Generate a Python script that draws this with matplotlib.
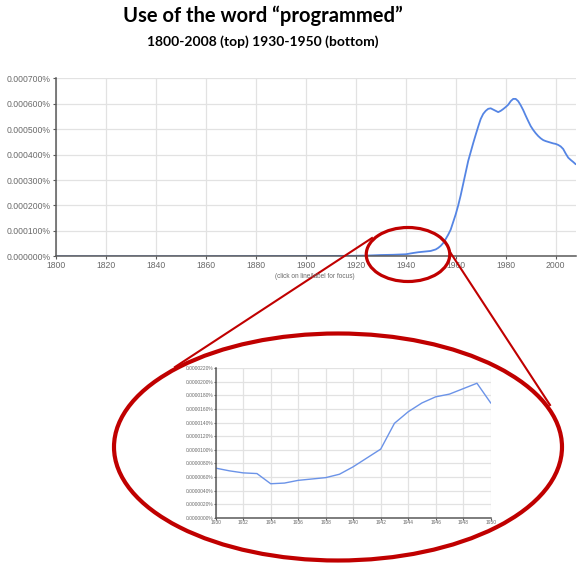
import matplotlib
matplotlib.use('Agg')
import matplotlib.pyplot as plt
from matplotlib.patches import Ellipse
from matplotlib.ticker import FuncFormatter

title = "Use of the word \u201cprogrammed\u201d"
subtitle = "1800-2008 (top) 1930-1950 (bottom)"
note = "(click on line/label for focus)"

# Top chart (percent)
main_years = [1800, 1850, 1900, 1920, 1925, 1930, 1935, 1940, 1943, 1945, 1948, 1950,
              1952, 1953, 1954, 1955, 1956, 1957, 1958, 1959, 1960, 1961, 1962, 1963,
              1964, 1965, 1966, 1967, 1968, 1969, 1970, 1971, 1972, 1973, 1974, 1975,
              1976, 1977, 1978, 1979, 1980, 1981, 1982, 1983, 1984, 1985, 1986, 1987,
              1988, 1989, 1990, 1991, 1992, 1993, 1994, 1995, 1996, 1997, 1998, 1999,
              2000, 2001, 2002, 2003, 2004, 2005, 2006, 2007, 2008]
main_values = [0.0, 0.0, 0.000001, 0.000002, 0.000003, 0.000005, 0.000006, 0.000008,
               0.000013, 0.000016, 0.000019, 0.000021, 0.000027, 0.000033, 0.000041,
               0.000052, 0.000068, 0.000085, 0.000105, 0.000135, 0.000165, 0.000200,
               0.000240, 0.000285, 0.000330, 0.000375, 0.000410, 0.000445, 0.000478,
               0.000510, 0.000540, 0.000560, 0.000572, 0.000580, 0.000582, 0.000577,
               0.000572, 0.000567, 0.000572, 0.000579, 0.000587, 0.000596, 0.000610,
               0.000619, 0.000619, 0.000610, 0.000594, 0.000575, 0.000553, 0.000532,
               0.000512, 0.000497, 0.000484, 0.000473, 0.000464, 0.000457, 0.000453,
               0.000450, 0.000447, 0.000444, 0.000442, 0.000438, 0.000432, 0.000422,
               0.000404, 0.000388, 0.000379, 0.000371, 0.000362]
main_xticks = [1800, 1820, 1840, 1860, 1880, 1900, 1920, 1940, 1960, 1980, 2000]
main_yticks = [0.0, 0.0001, 0.0002, 0.0003, 0.0004, 0.0005, 0.0006, 0.0007]

# Bottom (inset) chart, 1930-1950 (percent)
inset_years = [1930, 1931, 1932, 1933, 1934, 1935, 1936, 1937, 1938, 1939, 1940,
               1941, 1942, 1943, 1944, 1945, 1946, 1947, 1948, 1949, 1950]
inset_values = [0.0000073, 0.0000069, 0.0000066, 0.0000065, 0.0000050, 0.0000051,
                0.0000055, 0.0000057, 0.0000059, 0.0000064, 0.0000075, 0.0000088,
                0.0000101, 0.0000139, 0.0000156, 0.0000169, 0.0000178, 0.0000182,
                0.0000190, 0.0000198, 0.0000169]
inset_xticks = [1930, 1932, 1934, 1936, 1938, 1940, 1942, 1944, 1946, 1948, 1950]
inset_yticks = [0.0, 0.000002, 0.000004, 0.000006, 0.000008, 0.000010, 0.000012,
                0.000014, 0.000016, 0.000018, 0.000020, 0.000022]

W, H = 577, 568
fig = plt.figure(figsize=(W / 100, H / 100), dpi=100)
fig.patch.set_facecolor('white')


def px_axes(l, t, r, b):
    return fig.add_axes([l / W, 1 - b / H, (r - l) / W, (b - t) / H])


def style(ax, lsize, family, tlen, pad):
    ax.grid(True, color='#e2e2e2', lw=0.9)
    ax.set_axisbelow(True)
    for s in ('top', 'right'):
        ax.spines[s].set_visible(False)
    for s in ('left', 'bottom'):
        ax.spines[s].set_color('#5a5a5a')
        ax.spines[s].set_linewidth(1.1)
    ax.tick_params(labelsize=lsize, labelcolor='#6a6a6a', color='#5a5a5a',
                   length=tlen, width=0.8, pad=pad)
    for lab in ax.get_xticklabels() + ax.get_yticklabels():
        lab.set_family(family)


# Top chart
ax = px_axes(55.7, 78.3, 575.7, 256.3)
ax.plot(main_years, main_values, color='#5585e4', lw=1.3, solid_capstyle='round')
ax.set_xlim(1800, 2008)
ax.set_ylim(0, 0.0007)
ax.set_xticks(main_xticks)
ax.set_yticks(main_yticks)
ax.yaxis.set_major_formatter(FuncFormatter(lambda v, p: f"{v:.6f}%"))
style(ax, 6.2, ['Liberation Sans', 'DejaVu Sans'], 2.2, 1.2)

fig.text(314.5 / W, 1 - 276 / H, note, fontsize=4.7, color='#6a6a6a',
         ha='center', va='center', family=['Liberation Sans', 'DejaVu Sans'])

# Inset chart
ax2 = px_axes(215.7, 368.3, 490.7, 517.7)
ax2.plot(inset_years, inset_values, color='#6b93e8', lw=1.0)
ax2.set_xlim(1930, 1950)
ax2.set_ylim(0, 0.000022)
ax2.set_xticks(inset_xticks)
ax2.set_yticks(inset_yticks)
ax2.yaxis.set_major_formatter(FuncFormatter(lambda v, p: f"{v:.7f}%"))
style(ax2, 3.5, ['Liberation Sans Narrow', 'Liberation Sans', 'DejaVu Sans'], 1.4, 0.6)

# Title
fig.text(263 / W, 1 - 16 / H, title, fontsize=14.5, fontweight='bold',
         family=['Lato', 'DejaVu Sans'], ha='center', va='center')
fig.text(263 / W, 1 - 42 / H, subtitle, fontsize=10.0, fontweight='bold',
         family=['Lato', 'DejaVu Sans'], ha='center', va='center')

# Overlay: zoom callout
ov = fig.add_axes([0, 0, 1, 1])
ov.set_xlim(0, W)
ov.set_ylim(H, 0)
ov.axis('off')
ov.patch.set_alpha(0)
red = '#c00000'
ov.add_patch(Ellipse((408, 254.5), 83.5, 54, fill=False, ec=red, lw=2.3))
ov.add_patch(Ellipse((338, 447), 448, 227, fill=False, ec=red, lw=3.0))
ov.plot([175, 372], [367, 238], color=red, lw=1.5)
ov.plot([450, 550], [252, 405], color=red, lw=1.5)

fig.savefig('out.png', dpi=100, facecolor='white')
